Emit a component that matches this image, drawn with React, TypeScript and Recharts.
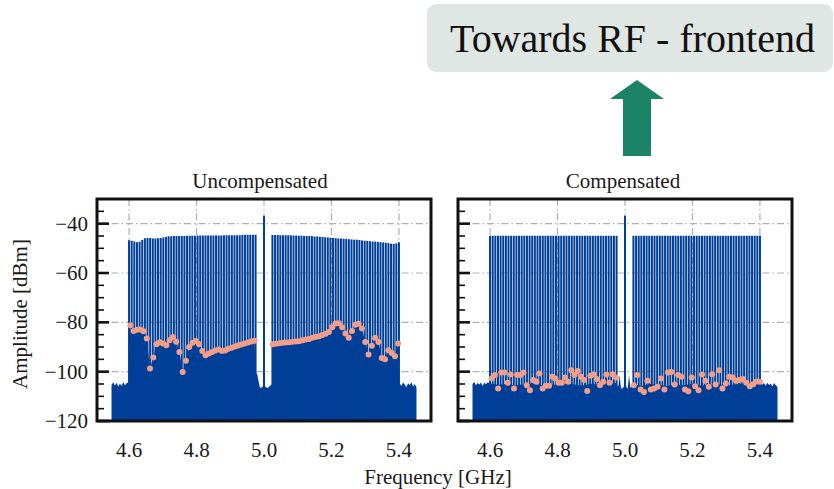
import React from 'react';
import { ComposedChart, Area, Bar, Scatter, XAxis, YAxis, CartesianGrid } from 'recharts';

const FONT = '"Liberation Serif", "Times New Roman", serif';
const INK = '#1a1a1a';
const BLUE = '#003f98';
const SALMON = '#f29e89';
const GRID = '#b0b0b0';

const X_DOMAIN = [4.505, 5.495];
const Y_MIN = -120;
const Y_MAX = -30;
const X_TICKS = [4.6, 4.8, 5.0, 5.2, 5.4];
const Y_TICKS = [-120, -115, -110, -105, -100, -95, -90, -85, -80, -75, -70, -65, -60, -55, -50, -45, -40, -35, -30];
const Y_GRID = [-100, -80, -60, -40];

// subcarrier comb
const SUB_STEP = 0.0078125;
const BAND_L_START = 4.6;
const BAND_R_START = 5.025;
const CARRIER_F = 5.0;
const CARRIER_DBM = -36.8;

const UNCOMP_PEAKS_L = [
  -46.7, -46.9, -47.2, -47.5, -47.3, -46.6, -45.9, -45.8, -45.8, -46.0,
  -46.0, -45.9, -45.8, -45.6, -45.4, -45.1, -45.1, -45.0, -45.0, -45.0,
  -45.0, -45.0, -44.9, -44.9, -44.9, -44.9, -44.8, -44.8, -44.8, -44.8,
  -44.8, -44.8, -44.8, -44.8, -44.8, -44.8, -44.7, -44.7, -44.7, -44.7,
  -44.7, -44.7, -44.7, -44.5, -44.5, -44.5, -44.5, -44.5, -44.5,
];
const UNCOMP_PEAKS_R = [
  -44.6, -44.6, -44.6, -44.7, -44.7, -44.7, -44.7, -44.7, -44.8, -44.8,
  -44.9, -44.9, -45.0, -45.0, -45.0, -45.1, -45.2, -45.2, -45.3, -45.4,
  -45.5, -45.6, -45.7, -45.8, -45.9, -46.0, -46.0, -46.1, -46.2, -46.3,
  -46.4, -46.5, -46.5, -46.6, -46.8, -46.9, -47.0, -47.1, -47.2, -47.3,
  -47.4, -47.5, -47.6, -47.7, -47.9, -48.1, -48.2, -48.0, -47.6,
];
const COMP_PEAKS_L = [
  -44.9, -44.9, -44.9, -44.9, -44.9, -44.9, -44.9, -44.9, -44.9, -44.9,
  -44.9, -44.9, -44.9, -44.9, -44.9, -44.9, -44.9, -44.9, -44.9, -44.9,
  -44.9, -44.9, -44.9, -44.9, -44.9, -44.9, -44.9, -44.9, -44.9, -44.9,
  -44.9, -44.9, -44.9, -44.9, -44.9, -44.9, -44.9, -44.9, -44.9, -44.9,
  -44.9, -44.9, -44.9, -44.9, -44.9, -44.9, -44.9, -44.9, -44.9,
];
const COMP_PEAKS_R = [
  -44.9, -44.9, -44.9, -44.9, -44.9, -44.9, -44.9, -44.9, -44.9, -44.9,
  -44.9, -44.9, -44.9, -44.9, -44.9, -44.9, -44.9, -44.9, -44.9, -44.9,
  -44.9, -44.9, -44.9, -44.9, -44.9, -44.9, -44.9, -44.9, -44.9, -44.9,
  -44.9, -44.9, -44.9, -44.9, -44.9, -44.9, -44.9, -44.9, -44.9, -44.9,
  -44.9, -44.9, -44.9, -44.9, -44.9, -44.9, -44.9, -44.9, -44.9,
];

// in-band distortion level between subcarriers (pink markers)
const UNCOMP_DOT_SPAN_L = [4.604, 4.972];
const UNCOMP_DOT_SPAN_R = [5.026, 5.398];
const UNCOMP_DOTS_L = [
  -81.2, -83.5, -83.0, -82.9, -83.6, -86.6, -98.7, -94.3, -88.9, -88.1,
  -88.6, -89.3, -87.3, -85.9, -87.9, -92.0, -100.1, -95.6, -90.0, -88.3,
  -87.6, -88.9, -91.6, -93.3, -92.6, -92.0, -91.4, -91.0, -91.6, -91.4,
  -90.7, -90.3, -89.8, -89.4, -89.0, -88.6, -88.2, -87.8, -87.5,
];
const UNCOMP_DOTS_R = [
  -88.9, -88.7, -88.5, -88.3, -88.2, -88.1, -87.9, -87.8, -87.7, -87.3,
  -87.0, -86.8, -86.2, -85.9, -85.6, -85.1, -84.6, -83.9, -82.0, -80.5,
  -80.4, -82.0, -84.5, -86.3, -83.5, -81.0, -80.6, -82.5, -88.0, -93.0,
  -89.5, -86.3, -88.0, -94.5, -95.0, -91.3, -92.4, -93.8, -88.6,
];
const COMP_DOT_SPAN_L = [4.605, 4.973];
const COMP_DOT_SPAN_R = [5.026, 5.4];
const COMP_DOTS_L = [
  -102.8, -101.4, -106.8, -100.3, -100.3, -104.5, -101.1, -106.8, -101.3, -101.4,
  -100.3, -105.5, -107.5, -103.4, -104.1, -100.7, -106.8, -105.7, -105.7, -102.1,
  -102.8, -104.5, -104.5, -102.4, -104.1, -99.4, -101.4, -99.7, -102.1, -103.4,
  -107.8, -101.7, -101.0, -103.0, -105.5, -104.1, -101.1, -104.5, -101.0, -102.4,
];
const COMP_DOTS_R = [
  -105.5, -101.4, -107.2, -108.2, -103.7, -107.2, -106.8, -106.1, -102.8, -107.2,
  -100.3, -100.1, -105.2, -101.4, -102.1, -107.2, -107.9, -102.4, -105.9, -107.5,
  -101.1, -103.7, -106.1, -101.0, -105.2, -99.4, -106.8, -104.8, -102.1, -102.4,
  -103.7, -103.4, -103.0, -104.5, -105.9, -105.1, -104.0, -104.1,
];

// noise floor outside the band and in the DC gap
const NOISE_SPAN_L = [4.548, 4.598];
const NOISE_SPAN_R = [5.402, 5.452];
const GAP_FREQS = [4.976, 4.98, 4.984, 4.988, 4.992, 4.996, 5.004, 5.008, 5.012, 5.016, 5.02, 5.024];
const UNCOMP_NOISE_L = [-105.4, -104.3, -105.6, -104.5, -106.0, -104.8, -105.8, -104.2, -105.5, -104.6, -104.4];
const UNCOMP_NOISE_R = [-104.6, -105.8, -104.4, -105.2, -106.3, -104.7, -105.4, -104.3, -106.0, -105.0, -106.5];
const UNCOMP_GAP = [-100.5, -101.0, -104.0, -106.5, -106.5, -106.0, -106.0, -106.5, -106.5, -106.0, -105.5, -105.0];
const COMP_NOISE_L = [-105.0, -104.2, -105.5, -104.6, -105.2, -104.4, -105.8, -104.5, -105.1, -104.3, -104.8];
const COMP_NOISE_R = [-104.4, -105.3, -104.6, -105.7, -104.5, -105.4, -104.9, -105.9, -104.6, -105.5, -106.2];
const COMP_GAP = [-105.5, -106.0, -101.5, -106.5, -107.0, -106.0, -106.0, -107.0, -101.5, -106.5, -106.0, -105.5];
const COMP_FLOOR_SPAN_L = [4.6, 4.975];
const COMP_FLOOR_SPAN_R = [5.025, 5.4];
const COMP_FLOOR_L = [-104.8, -105.3, -104.9, -105.6, -105.1, -104.7, -105.4, -105.0, -105.5, -104.8, -105.2, -105.6, -104.9, -105.3, -105.0, -104.6];
const COMP_FLOOR_R = [-105.2, -105.7, -105.0, -105.4, -105.8, -105.1, -105.5, -104.9, -105.6, -105.3, -105.0, -105.6, -105.2, -104.8, -105.3, -104.9];

const spaced = (span: number[], n: number) =>
  Array.from({ length: n }, (_, i) => span[0] + ((span[1] - span[0]) * i) / (n - 1));
const pairs = (fs: number[], vs: number[]) => vs.map((v, i) => ({ f: fs[i], v }));
const onSpan = (span: number[], vs: number[]) => pairs(spaced(span, vs.length), vs);

const stripeRows = (peaksL: number[], peaksR: number[]) => [
  ...peaksL.map((p, i) => ({ f: BAND_L_START + i * SUB_STEP, range: [Y_MIN, p] })),
  { f: CARRIER_F, range: [Y_MIN, CARRIER_DBM] },
  ...peaksR.map((p, i) => ({ f: BAND_R_START + i * SUB_STEP, range: [Y_MIN, p] })),
];

const UNCOMP_DOTS = [...onSpan(UNCOMP_DOT_SPAN_L, UNCOMP_DOTS_L), ...onSpan(UNCOMP_DOT_SPAN_R, UNCOMP_DOTS_R)];
const COMP_DOTS = [...onSpan(COMP_DOT_SPAN_L, COMP_DOTS_L), ...onSpan(COMP_DOT_SPAN_R, COMP_DOTS_R)];

const UNCOMP_FLOOR = [
  ...onSpan(NOISE_SPAN_L, UNCOMP_NOISE_L),
  ...onSpan(UNCOMP_DOT_SPAN_L, UNCOMP_DOTS_L),
  ...pairs(GAP_FREQS, UNCOMP_GAP),
  ...onSpan(UNCOMP_DOT_SPAN_R, UNCOMP_DOTS_R),
  ...onSpan(NOISE_SPAN_R, UNCOMP_NOISE_R),
];
const COMP_FLOOR = [
  ...onSpan(NOISE_SPAN_L, COMP_NOISE_L),
  ...onSpan(COMP_FLOOR_SPAN_L, COMP_FLOOR_L),
  ...pairs(GAP_FREQS, COMP_GAP),
  ...onSpan(COMP_FLOOR_SPAN_R, COMP_FLOOR_R),
  ...onSpan(NOISE_SPAN_R, COMP_NOISE_R),
];

// layout (page pixels)
const PLOT_TOP = 199;
const PLOT_H = 222;
const PLOT_W = 334;
const CHART_TOP = 180;
const M_TOP = PLOT_TOP - CHART_TOP;
const X_AXIS_H = 40;
const CHART_H = M_TOP + PLOT_H + X_AXIS_H;
const STRIPE_W = 2;

const minus = (v: number) => (v < 0 ? `\u2212${Math.abs(v)}` : `${v}`);

const YTick = ({ y, payload, plotLeft, showLabel }: any) => {
  const v = payload.value;
  const major = v % 20 === 0;
  return (
    <g>
      <line x1={plotLeft} x2={plotLeft + (major ? 12 : 7)} y1={y} y2={y} stroke="#111" strokeWidth={major ? 2.6 : 1.6} />
      {showLabel && major && (
        <text x={plotLeft - 9} y={y + 7} textAnchor="end" fontFamily={FONT} fontSize={21} fill={INK}>
          {minus(v)}
        </text>
      )}
    </g>
  );
};

const XTick = ({ x, payload }: any) => (
  <text x={x} y={M_TOP + PLOT_H + 36} textAnchor="middle" fontFamily={FONT} fontSize={21} fill={INK}>
    {payload.value.toFixed(1)}
  </text>
);

// thin stripe centred on the bar slot that Recharts computed
const Stripe = (p: any) => (
  <rect x={p.x + p.width / 2 - STRIPE_W / 2} y={p.y} width={STRIPE_W} height={p.height} fill={BLUE} />
);

interface PanelProps {
  left: number;
  plotLeft: number;
  showYLabels: boolean;
  stripes: any[];
  floor: any[];
  dots: any[];
}

const Panel: React.FC<PanelProps> = ({ left, plotLeft, showYLabels, stripes, floor, dots }) => {
  const yw = plotLeft - left;
  const width = yw + PLOT_W + 9;
  return (
    <div style={{ position: 'absolute', left, top: CHART_TOP }}>
      <ComposedChart width={width} height={CHART_H} data={stripes} margin={{ top: M_TOP, right: 9, bottom: 0, left: 0 }}>
        <CartesianGrid stroke={GRID} strokeWidth={1.2} strokeDasharray="7 3 1.5 3" horizontalValues={Y_GRID} verticalValues={X_TICKS} />
        <XAxis
          type="number"
          dataKey="f"
          domain={X_DOMAIN}
          allowDataOverflow
          ticks={X_TICKS}
          height={X_AXIS_H}
          axisLine={false}
          tickLine={false}
          tick={<XTick />}
        />
        <YAxis
          type="number"
          domain={[Y_MIN, Y_MAX]}
          allowDataOverflow
          ticks={Y_TICKS}
          width={yw}
          axisLine={false}
          tickLine={false}
          interval={0}
          tick={<YTick plotLeft={yw} showLabel={showYLabels} />}
        />
        <Area data={floor} dataKey="v" type="linear" baseValue={Y_MIN} stroke="none" fill={BLUE} fillOpacity={1} isAnimationActive={false} />
        <Bar dataKey="range" fill={BLUE} shape={<Stripe />} isAnimationActive={false} />
        <Scatter
          data={dots}
          dataKey="v"
          isAnimationActive={false}
          shape={(p: any) => <circle cx={p.cx} cy={p.cy} r={3} fill={SALMON} />}
        />
      </ComposedChart>
    </div>
  );
};

const App: React.FC = () => {
  const frames = [97, 458];
  return (
    <div style={{ position: 'absolute', left: 0, top: 0, width: 834, height: 489, background: '#fff', overflow: 'hidden' }}>
      <Panel left={40} plotLeft={97} showYLabels stripes={stripeRows(UNCOMP_PEAKS_L, UNCOMP_PEAKS_R)} floor={UNCOMP_FLOOR} dots={UNCOMP_DOTS} />
      <Panel left={440} plotLeft={458} showYLabels={false} stripes={stripeRows(COMP_PEAKS_L, COMP_PEAKS_R)} floor={COMP_FLOOR} dots={COMP_DOTS} />
      <svg width={834} height={489} style={{ position: 'absolute', left: 0, top: 0, pointerEvents: 'none' }}>
        {frames.map((x) => (
          <rect key={x} x={x} y={PLOT_TOP} width={PLOT_W} height={PLOT_H} fill="none" stroke="#111" strokeWidth={3} />
        ))}
        <rect x={427} y={4} width={406} height={68} rx={9} fill="#dfe6e3" />
        <text x={450} y={52} fontFamily={FONT} fontSize={40} fill="#111">Towards RF - frontend</text>
        <polygon points="637,80 664,99 651,99 651,156 623,156 623,99 610,99" fill="#1b8467" />
        <text x={260} y={188} textAnchor="middle" fontFamily={FONT} fontSize={21} fill={INK}>Uncompensated</text>
        <text x={623} y={188} textAnchor="middle" fontFamily={FONT} fontSize={21} fill={INK}>Compensated</text>
        <text x={438} y={484} textAnchor="middle" fontFamily={FONT} fontSize={21} fill={INK}>Frequency [GHz]</text>
        <text transform="translate(27,314) rotate(-90)" textAnchor="middle" fontFamily={FONT} fontSize={21} fill={INK}>Amplitude [dBm]</text>
      </svg>
    </div>
  );
};

export default App;
